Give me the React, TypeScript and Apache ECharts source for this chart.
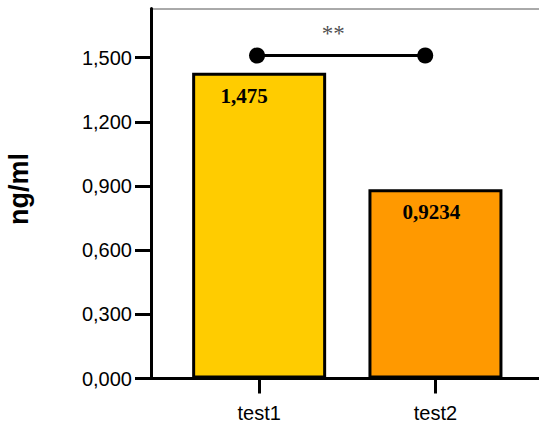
import React, { useEffect, useRef } from "react";
import * as echarts from "echarts";

const categories = ["test1", "test2"];
const barValues = [1.43, 0.885];
const barLabels = ["1,475", "0,9234"];
const barColors = ["#FFCC00", "#FF9900"];
const labelShiftX = [-15, -4];
const yTicks = [0, 0.3, 0.6, 0.9, 1.2, 1.5];
const yMax = 1.73;
const bracketPoints = [
  [-0.012, 1.51],
  [0.942, 1.51],
];
const starPoint = [0.42, 1.615];
const starText = "**";
const yName = "ng/ml";

export default function App() {
  const ref = useRef<HTMLDivElement>(null);
  useEffect(() => {
    if (!ref.current) return;
    const chart = echarts.init(ref.current, undefined, { renderer: "svg" });
    const gridLeft = 171;
    const gridRight = 15.4;
    const gridTop = 8.5;
    const gridBottom = 44.5;
    const axisY = 423 - gridBottom;
    chart.setOption({
      animation: false,
      grid: { left: gridLeft, right: gridRight, top: gridTop, bottom: gridBottom, containLabel: false, outerBoundsMode: "none" },
      xAxis: [
        {
          type: "category",
          data: categories,
          axisLine: { show: false },
          axisTick: { show: true, alignWithLabel: true, length: 15, lineStyle: { color: "#000", width: 3 } },
          axisLabel: { color: "#000", fontSize: 20, fontFamily: "Liberation Sans, Arial, sans-serif", margin: 24 },
        },
        { type: "value", min: -0.5, max: 1.5, show: false },
      ],
      yAxis: {
        type: "value",
        min: 0,
        max: yMax,
        offset: 20,
        splitLine: { show: false },
        axisLine: { show: true, onZero: false, lineStyle: { color: "#000", width: 3 } },
        axisTick: { show: true, length: 16, customValues: yTicks, lineStyle: { color: "#000", width: 3 } },
        axisLabel: {
          customValues: yTicks,
          color: "#000",
          fontSize: 20,
          margin: 19,
          fontFamily: "Liberation Sans, Arial, sans-serif",
          formatter: (v: number) => v.toFixed(3).replace(".", ","),
        },
      },
      series: [
        {
          type: "bar",
          xAxisIndex: 0,
          barWidth: 134,
          data: barValues.map((v, i) => ({
            value: v,
            itemStyle: { color: barColors[i], borderColor: "#000", borderWidth: 3 },
            label: {
              show: true,
              formatter: barLabels[i],
              position: ["50%", 23],
              align: "center",
              verticalAlign: "middle",
              offset: [labelShiftX[i], 0],
              color: "#000",
              fontSize: 21,
              fontWeight: "bold",
              fontFamily: "Liberation Serif, Times New Roman, serif",
            },
          })),
        },
        {
          type: "line",
          xAxisIndex: 1,
          data: bracketPoints,
          symbol: "circle",
          symbolSize: 16,
          itemStyle: { color: "#000" },
          lineStyle: { color: "#000", width: 3 },
        },
        {
          type: "scatter",
          xAxisIndex: 1,
          data: [starPoint],
          symbolSize: 0,
          label: {
            show: true,
            position: "inside",
            formatter: starText,
            color: "#222",
            fontSize: 23,
            fontFamily: "Liberation Serif, Times New Roman, serif",
          },
        },
      ],
      graphic: [
        {
          type: "line",
          shape: { x1: 150, y1: axisY, x2: 539, y2: axisY },
          style: { stroke: "#000", lineWidth: 3 },
        },
        {
          type: "line",
          shape: { x1: 152, y1: 9, x2: 539, y2: 9 },
          style: { stroke: "#555", lineWidth: 1 },
        },
        {
          type: "text",
          x: 19,
          y: 189,
          rotation: Math.PI / 2,
          style: {
            text: yName,
            align: "center",
            verticalAlign: "middle",
            fill: "#000",
            fontSize: 27,
            fontWeight: "bold",
            fontFamily: "Liberation Sans, Arial, sans-serif",
          },
        },
      ],
    });
    return () => chart.dispose();
  }, []);
  return <div ref={ref} style={{ width: 539, height: 423, position: "absolute", left: 0, top: 0 }} />;
}
